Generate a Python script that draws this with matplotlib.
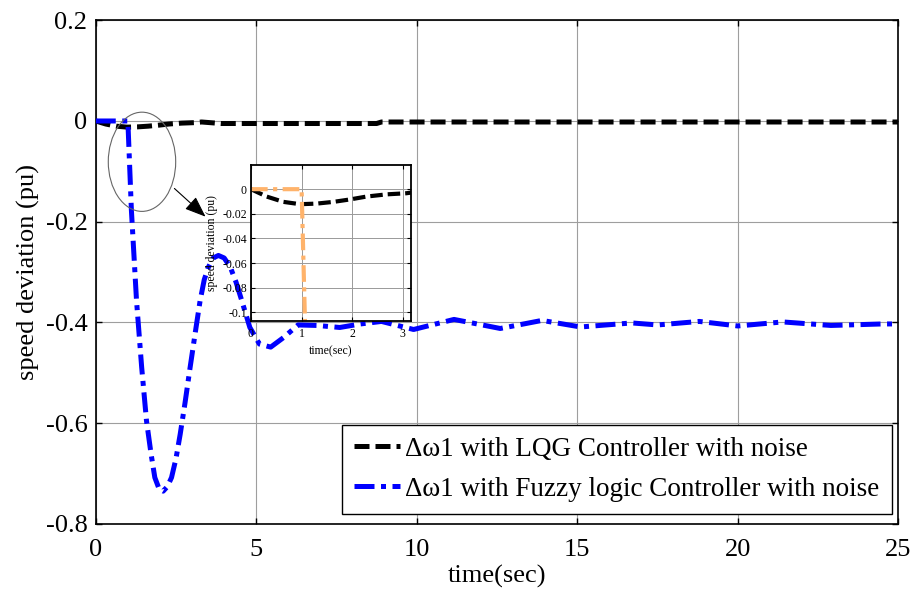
import matplotlib.pyplot as plt
from matplotlib.patches import Ellipse

plt.rcParams['font.family'] = ['Liberation Serif', 'DejaVu Serif']
plt.rcParams['axes.unicode_minus'] = False

# LQG controller response (speed deviation, pu)
t_lqg = [0, 0.31, 0.64, 0.97, 1.3, 1.63, 1.96, 2.28, 2.68, 3.07, 3.3, 3.9,
         5, 7, 8.75, 8.9, 12, 16, 20, 25]
w_lqg = [0, -0.006, -0.0103, -0.0122, -0.0117, -0.0103, -0.0083, -0.006,
         -0.0042, -0.0033, -0.002, -0.005, -0.005, -0.005, -0.005, -0.002,
         -0.002, -0.002, -0.002, -0.002]

# Fuzzy logic controller response
t_fuzzy = [0, 1.0, 1.11, 1.27, 1.43, 1.58, 1.72, 1.84, 1.97, 2.1, 2.23, 2.36,
           2.5, 2.63, 2.78, 2.94, 3.1, 3.25, 3.38, 3.51, 3.66, 3.82, 4.0, 4.19,
           4.37, 4.55, 4.8, 5.1, 5.45, 5.85, 6.3, 6.9, 7.6, 8.25, 8.9, 9.9,
           11.16, 12.6, 13.9, 15.1, 16.7, 17.5, 18.8, 20.0, 21.4, 22.9, 24.5, 25]
w_fuzzy = [0, 0, -0.177, -0.357, -0.489, -0.595, -0.66, -0.708, -0.73, -0.735,
           -0.726, -0.708, -0.67, -0.622, -0.56, -0.489, -0.42, -0.357, -0.315,
           -0.29, -0.272, -0.267, -0.272, -0.29, -0.32, -0.357, -0.41, -0.443,
           -0.449, -0.43, -0.405, -0.406, -0.41, -0.403, -0.398, -0.414, -0.394,
           -0.412, -0.396, -0.409, -0.401, -0.405, -0.398, -0.407, -0.399,
           -0.406, -0.403, -0.403]

x_ticks = [0, 5, 10, 15, 20, 25]
y_ticks = [0.2, 0, -0.2, -0.4, -0.6, -0.8]
y_tick_labels = ['0.2', '0', '-0.2', '-0.4', '-0.6', '-0.8']
inset_x_ticks = [0, 1, 2, 3]
inset_y_ticks = [0, -0.02, -0.04, -0.06, -0.08, -0.1]
inset_y_labels = ['0', '-0.02', '-0.04', '-0.06', '-0.08', '-0.1']

fig = plt.figure(figsize=(9.12, 5.96), dpi=100)
ax = fig.add_axes([0.105, 0.121, 0.88, 0.845])

ax.plot(t_lqg, w_lqg, color='black', lw=3.6, dashes=(3, 1.2),
        label='Δω1 with LQG Controller with noise', zorder=3)
ax.plot(t_fuzzy, w_fuzzy, color='#0000ff', lw=3.6, dashes=(4, 1.3, 1, 1.3),
        label='Δω1 with Fuzzy logic Controller with noise', zorder=3)

ax.set_xlim(0, 25)
ax.set_ylim(-0.8, 0.2)
ax.set_xticks(x_ticks)
ax.set_xticklabels([str(v) for v in x_ticks])
ax.set_yticks(y_ticks)
ax.set_yticklabels(y_tick_labels)
ax.tick_params(direction='in', top=True, right=True, labelsize=19,
               length=4, width=1)
ax.tick_params(axis='x', pad=11)
ax.tick_params(axis='y', pad=6)
ax.grid(True, color='0.62', lw=0.8)
for s in ax.spines.values():
    s.set_linewidth(1.2)
ax.set_xlabel('time(sec)', fontsize=19, labelpad=3)
ax.set_ylabel('speed deviation (pu)', fontsize=19, labelpad=4)

leg = ax.legend(loc='lower right', bbox_to_anchor=(0.992, 0.02), fontsize=19.5,
                frameon=True, fancybox=False, handlelength=1.7,
                handletextpad=0.2, borderpad=0.45, labelspacing=0.55,
                borderaxespad=0.0)
leg.get_frame().set_edgecolor('black')
leg.get_frame().set_linewidth(1.0)
leg.get_frame().set_alpha(1)

# ellipse around the initial dip and the arrow pointing to the zoomed view
ax.add_patch(Ellipse((1.44, -0.081), 2.1, 0.197, fill=False,
                     edgecolor='0.4', lw=0.8, zorder=4))
ax.annotate('', xy=(3.42, -0.19), xytext=(2.45, -0.134),
            arrowprops=dict(arrowstyle='-|>,head_length=1.3,head_width=0.5',
                            color='black', lw=0.8, shrinkA=0, shrinkB=0),
            zorder=4)

# zoomed inset of the first seconds
axin = fig.add_axes([0.2752, 0.4614, 0.1754, 0.2617])
axin.plot(t_lqg, w_lqg, color='black', lw=3.0, dashes=(3, 1.2))
axin.plot(t_fuzzy, w_fuzzy, color='#ffb36b', lw=3.0, dashes=(4, 1.3, 1, 1.3))
axin.set_xlim(0, 3.16)
axin.set_ylim(-0.107, 0.0196)
axin.set_xticks(inset_x_ticks)
axin.set_xticklabels([str(v) for v in inset_x_ticks])
axin.set_yticks(inset_y_ticks)
axin.set_yticklabels(inset_y_labels)
axin.tick_params(direction='in', top=True, right=True, labelsize=8.5,
                 length=3, width=0.8, pad=3)
axin.tick_params(axis='x', pad=5)
axin.grid(True, color='0.6', lw=0.7)
for s in axin.spines.values():
    s.set_linewidth(1.3)
axin.set_xlabel('time(sec)', fontsize=8.5, labelpad=4)
axin.set_ylabel('speed deviation (pu)', fontsize=8.5, labelpad=3)

fig.savefig('out.png', dpi=100)
